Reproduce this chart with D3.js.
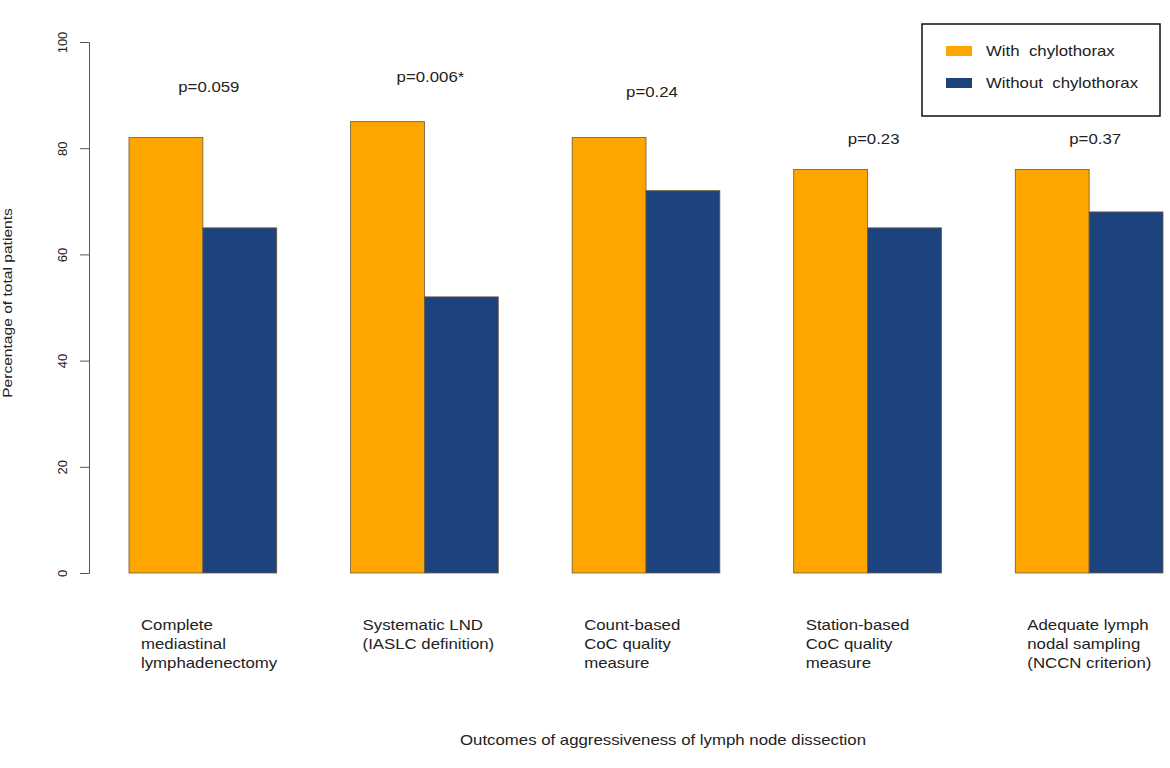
<!DOCTYPE html>
<html>
<head>
<meta charset="utf-8">
<script src="https://cdn.jsdelivr.net/npm/d3@7"></script>
<style>
  body { margin: 0; background: #fff; }
  text { font-family: "Liberation Sans", Arial, sans-serif; fill: #222; }
</style>
</head>
<body>
<div id="svg-container"></div>
<script>
// categories, values and labels
const categories = [
  ["Complete", "mediastinal", "lymphadenectomy"],
  ["Systematic LND", "(IASLC definition)"],
  ["Count-based", "CoC quality", "measure"],
  ["Station-based", "CoC quality", "measure"],
  ["Adequate lymph", "nodal sampling", "(NCCN criterion)"]
]
const withChylo = [82, 85, 82, 76, 76]
const withoutChylo = [65, 52, 72, 65, 68]
const pLabels = ["p=0.059", "p=0.006*", "p=0.24", "p=0.23", "p=0.37"]
const pLabelLevel = [91.5, 93.3, 90.6, 81.8, 81.8]
const yTicks = [0, 20, 40, 60, 80, 100]
const seriesNames = ["With  chylothorax", "Without  chylothorax"]
const colors = ["#FFA500", "#1C437E"]

const width = 1170, height = 768
const stretch = 1.2 // tekst in het origineel is breed uitgerekt
const svg = d3.select('#svg-container').append('svg')
  .attr('width', width).attr('height', height)

//tekst op positie x,y, horizontaal uitgerekt
function addText(parent, x, y, size, anchor, rotate) {
  const g = parent.append('g')
    .attr('transform', `translate(${x},${y}) rotate(${rotate || 0}) scale(${stretch},1)`)
  return g.append('text').attr('font-size', size).attr('text-anchor', anchor || 'start')
    .attr('xml:space', 'preserve').style('white-space', 'pre')
}

//schalen
const yScale = d3.scaleLinear().domain([0, 100]).range([573, 42])
const xScale = d3.scaleBand()
  .domain(d3.range(categories.length))
  .range([129, 1163])
  .paddingInner(1 / 3).paddingOuter(0)
const subScale = d3.scaleBand().domain([0, 1]).range([0, xScale.bandwidth()])

//y as
const yAxis = svg.append('g')
  .attr('transform', 'translate(89,0)')
  .call(d3.axisLeft(yScale).tickValues(yTicks).tickSize(9).tickPadding(0).tickFormat(d3.format('d')))
yAxis.selectAll('path, line').attr('stroke', '#555')
yAxis.selectAll('text')
  .attr('font-size', 13).attr('fill', '#222')
  .attr('transform', 'translate(-27,0) rotate(-90)')
  .attr('text-anchor', 'middle').attr('x', 0).attr('dy', '0.35em')

addText(svg, 12, 303, 13, 'middle', -90).text('Percentage of total patients')

//bars
const series = [withChylo, withoutChylo]
series.forEach((vals, s) => {
  svg.append('g').selectAll('rect').data(vals)
    .enter().append('rect')
    .attr('x', (d, i) => xScale(i) + subScale(s))
    .attr('y', d => yScale(d))
    .attr('width', subScale.bandwidth())
    .attr('height', d => yScale(0) - yScale(d))
    .attr('fill', colors[s])
    .attr('stroke', '#6b5a3a').attr('stroke-width', 0.8)
})

//p waardes
pLabels.forEach((p, i) => {
  addText(svg, xScale(i) + xScale.bandwidth() / 2 + 6, yScale(pLabelLevel[i]), 14, 'middle')
    .attr('dy', '0.35em').text(p)
})

//categorie labels, links uitgelijnd
categories.forEach((lines, i) => {
  const t = addText(svg, xScale(i) + 12, 630, 14, 'start')
  lines.forEach((line, j) => {
    t.append('tspan').attr('x', 0).attr('y', j * 19).text(line)
  })
})

addText(svg, 663, 745, 14, 'middle').text('Outcomes of aggressiveness of lymph node dissection')

//legenda
const legend = svg.append('g')
legend.append('rect')
  .attr('x', 922).attr('y', 24).attr('width', 238).attr('height', 92)
  .attr('fill', '#fff').attr('stroke', '#111').attr('stroke-width', 1.5)
seriesNames.forEach((name, i) => {
  legend.append('rect')
    .attr('x', 946).attr('y', 46 + i * 32).attr('width', 26).attr('height', 10)
    .attr('fill', colors[i])
  addText(legend, 986, 51 + i * 32, 14, 'start').attr('dy', '0.35em').text(name)
})
</script>
</body>
</html>
